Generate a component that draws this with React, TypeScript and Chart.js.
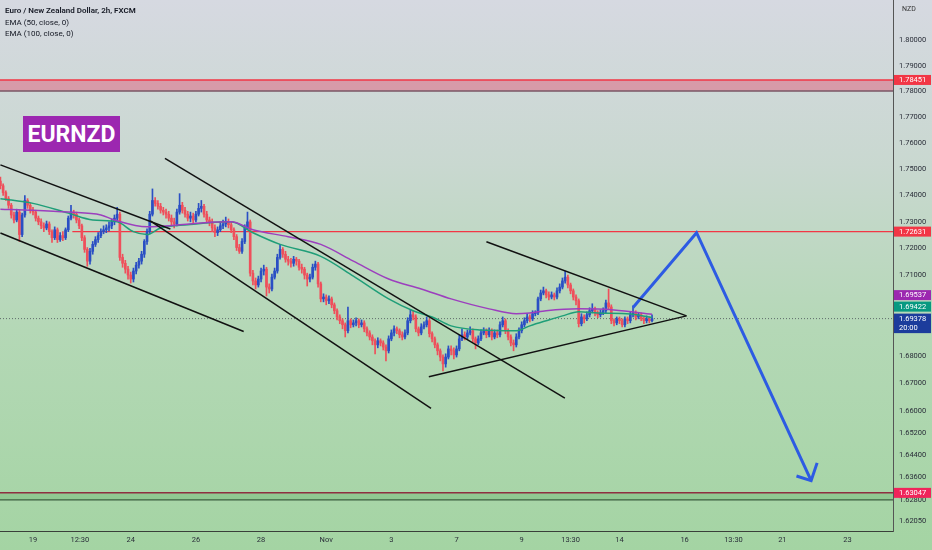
import { useEffect, useRef } from 'react'
import { Chart, registerables } from 'chart.js'
Chart.register(...registerables)

// EURNZD 2h candles, 18 Oct - 14 Nov (bar index = 2h step, weekends skipped)
const opens = [
  1.7455,1.7437,1.7411,1.7388,1.7363,1.7326,1.7307,1.7337,1.7252,1.7326,
  1.7381,1.7363,1.7344,1.7337,1.7314,1.7300,1.7285,1.7277,1.7292,1.7263,
  1.7240,1.7270,1.7233,1.7248,1.7240,1.7270,1.7314,1.7337,1.7329,1.7307,
  1.7285,1.7240,1.7196,1.7152,1.7189,1.7215,1.7233,1.7248,1.7263,1.7270,
  1.7277,1.7285,1.7300,1.7314,1.7329,1.7166,1.7144,1.7122,1.7100,1.7085,
  1.7115,1.7137,1.7152,1.7178,1.7226,1.7263,1.7329,1.7381,1.7370,1.7359,
  1.7344,1.7337,1.7329,1.7314,1.7300,1.7292,1.7337,1.7363,1.7344,1.7329,
  1.7314,1.7322,1.7307,1.7329,1.7351,1.7359,1.7329,1.7307,1.7300,1.7277,
  1.7259,1.7270,1.7285,1.7292,1.7300,1.7289,1.7270,1.7244,1.7203,1.7189,
  1.7226,1.7277,1.7300,1.7107,1.7078,1.7063,1.7085,1.7115,1.7122,1.7055,
  1.7048,1.7092,1.7115,1.7166,1.7196,1.7178,1.7159,1.7152,1.7144,1.7159,
  1.7152,1.7129,1.7122,1.7100,1.7085,1.7092,1.7129,1.7141,1.7067,1.7011,
  1.7018,1.7004,1.7011,1.6989,1.6967,1.6944,1.6930,1.6915,1.6893,1.6930,
  1.6915,1.6922,1.6930,1.6915,1.6922,1.6900,1.6885,1.6870,1.6856,1.6841,
  1.6856,1.6848,1.6833,1.6819,1.6863,1.6885,1.6900,1.6893,1.6878,1.6870,
  1.6885,1.6930,1.6952,1.6944,1.6900,1.6885,1.6907,1.6915,1.6930,1.6882,
  1.6863,1.6841,1.6819,1.6796,1.6771,1.6796,1.6826,1.6819,1.6804,1.6826,
  1.6863,1.6878,1.6870,1.6885,1.6893,1.6863,1.6848,1.6863,1.6885,1.6893,
  1.6878,1.6893,1.6870,1.6885,1.6878,1.6915,1.6930,1.6893,1.6870,1.6848,
  1.6841,1.6870,1.6893,1.6915,1.6930,1.6944,1.6937,1.6956,1.6959,1.7011,
  1.7033,1.7041,1.7026,1.7018,1.7026,1.7018,1.7041,1.7055,1.7078,1.7092,
  1.7063,1.7041,1.7018,1.7004,1.6919,1.6944,1.6937,1.6952,1.6967,1.6974,
  1.6959,1.6952,1.6959,1.6967,1.6996,1.6981,1.6930,1.6922,1.6937,1.6930,
  1.6915,1.6937,1.6930,1.6952,1.6959,1.6944,1.6952,1.6937,1.6930,1.6937,
  1.6930,
]
const highs = [
  1.7470,1.7444,1.7418,1.7396,1.7370,1.7337,1.7348,1.7344,1.7333,1.7400,
  1.7388,1.7370,1.7355,1.7344,1.7322,1.7311,1.7296,1.7303,1.7300,1.7270,
  1.7281,1.7277,1.7259,1.7263,1.7277,1.7322,1.7363,1.7344,1.7337,1.7314,
  1.7292,1.7248,1.7203,1.7200,1.7226,1.7244,1.7259,1.7274,1.7285,1.7289,
  1.7300,1.7311,1.7326,1.7355,1.7337,1.7178,1.7155,1.7133,1.7111,1.7126,
  1.7148,1.7163,1.7189,1.7233,1.7274,1.7340,1.7425,1.7392,1.7381,1.7370,
  1.7355,1.7348,1.7340,1.7326,1.7314,1.7348,1.7407,1.7374,1.7355,1.7340,
  1.7337,1.7333,1.7340,1.7370,1.7381,1.7366,1.7340,1.7318,1.7311,1.7289,
  1.7281,1.7300,1.7307,1.7318,1.7311,1.7300,1.7277,1.7252,1.7215,1.7237,
  1.7289,1.7337,1.7307,1.7118,1.7089,1.7096,1.7126,1.7137,1.7129,1.7067,
  1.7104,1.7126,1.7178,1.7215,1.7203,1.7189,1.7170,1.7163,1.7170,1.7166,
  1.7159,1.7141,1.7129,1.7107,1.7104,1.7141,1.7152,1.7148,1.7074,1.7030,
  1.7026,1.7022,1.7018,1.6996,1.6974,1.6952,1.6937,1.6922,1.6981,1.6937,
  1.6933,1.6941,1.6937,1.6933,1.6930,1.6907,1.6893,1.6878,1.6863,1.6867,
  1.6863,1.6856,1.6841,1.6874,1.6896,1.6911,1.6907,1.6900,1.6889,1.6896,
  1.6941,1.6970,1.6967,1.6952,1.6907,1.6919,1.6926,1.6944,1.6937,1.6889,
  1.6870,1.6848,1.6826,1.6804,1.6808,1.6837,1.6837,1.6830,1.6837,1.6878,
  1.6900,1.6889,1.6896,1.6907,1.6900,1.6870,1.6874,1.6896,1.6904,1.6900,
  1.6904,1.6900,1.6896,1.6896,1.6926,1.6944,1.6937,1.6900,1.6878,1.6859,
  1.6882,1.6904,1.6926,1.6941,1.6956,1.6952,1.6967,1.6967,1.7018,1.7044,
  1.7055,1.7048,1.7037,1.7037,1.7033,1.7052,1.7067,1.7089,1.7115,1.7100,
  1.7070,1.7048,1.7026,1.7011,1.6956,1.6952,1.6963,1.6978,1.6993,1.6981,
  1.6967,1.6970,1.6978,1.7007,1.7048,1.6989,1.6937,1.6944,1.6944,1.6937,
  1.6944,1.6944,1.6963,1.6985,1.6967,1.6959,1.6959,1.6944,1.6948,1.6944,
  1.6952,
]
const lows = [
  1.7425,1.7400,1.7381,1.7351,1.7314,1.7296,1.7300,1.7226,1.7244,1.7318,
  1.7351,1.7333,1.7326,1.7303,1.7289,1.7274,1.7263,1.7270,1.7252,1.7222,
  1.7233,1.7222,1.7226,1.7229,1.7233,1.7263,1.7307,1.7314,1.7296,1.7274,
  1.7229,1.7185,1.7133,1.7141,1.7178,1.7207,1.7222,1.7240,1.7255,1.7259,
  1.7266,1.7274,1.7289,1.7303,1.7155,1.7129,1.7107,1.7085,1.7070,1.7074,
  1.7104,1.7126,1.7141,1.7166,1.7215,1.7255,1.7322,1.7359,1.7348,1.7333,
  1.7326,1.7314,1.7303,1.7289,1.7277,1.7285,1.7329,1.7333,1.7318,1.7303,
  1.7300,1.7292,1.7300,1.7322,1.7337,1.7318,1.7296,1.7285,1.7263,1.7244,
  1.7248,1.7263,1.7274,1.7281,1.7277,1.7259,1.7233,1.7192,1.7181,1.7181,
  1.7218,1.7270,1.7096,1.7063,1.7048,1.7055,1.7074,1.7100,1.7022,1.7033,
  1.7041,1.7085,1.7107,1.7159,1.7166,1.7148,1.7137,1.7129,1.7133,1.7137,
  1.7118,1.7107,1.7085,1.7059,1.7074,1.7085,1.7118,1.7055,1.7000,1.7000,
  1.6989,1.6993,1.6978,1.6956,1.6933,1.6919,1.6900,1.6870,1.6885,1.6904,
  1.6907,1.6911,1.6904,1.6907,1.6889,1.6874,1.6859,1.6841,1.6808,1.6830,
  1.6837,1.6822,1.6782,1.6811,1.6856,1.6874,1.6882,1.6867,1.6859,1.6863,
  1.6878,1.6922,1.6933,1.6889,1.6874,1.6878,1.6900,1.6907,1.6870,1.6852,
  1.6830,1.6804,1.6782,1.6745,1.6759,1.6789,1.6804,1.6789,1.6796,1.6819,
  1.6856,1.6859,1.6863,1.6878,1.6852,1.6826,1.6841,1.6856,1.6878,1.6867,
  1.6870,1.6859,1.6863,1.6867,1.6870,1.6907,1.6882,1.6859,1.6837,1.6819,
  1.6833,1.6863,1.6885,1.6907,1.6922,1.6926,1.6930,1.6948,1.6952,1.7004,
  1.7026,1.7015,1.7007,1.7011,1.7007,1.7011,1.7033,1.7048,1.7070,1.7052,
  1.7030,1.7007,1.6989,1.6907,1.6911,1.6922,1.6930,1.6944,1.6959,1.6948,
  1.6941,1.6944,1.6952,1.6959,1.6974,1.6919,1.6911,1.6915,1.6919,1.6907,
  1.6907,1.6919,1.6922,1.6944,1.6933,1.6937,1.6930,1.6919,1.6922,1.6922,
  1.6926,
]
const closes = [
  1.7437,1.7411,1.7388,1.7363,1.7326,1.7307,1.7337,1.7252,1.7326,1.7381,
  1.7363,1.7344,1.7337,1.7314,1.7300,1.7285,1.7277,1.7292,1.7263,1.7240,
  1.7270,1.7233,1.7248,1.7240,1.7270,1.7314,1.7337,1.7329,1.7307,1.7285,
  1.7240,1.7196,1.7152,1.7189,1.7215,1.7233,1.7248,1.7263,1.7270,1.7277,
  1.7285,1.7300,1.7314,1.7329,1.7166,1.7144,1.7122,1.7100,1.7085,1.7115,
  1.7137,1.7152,1.7178,1.7226,1.7263,1.7329,1.7381,1.7370,1.7359,1.7344,
  1.7337,1.7329,1.7314,1.7300,1.7292,1.7337,1.7363,1.7344,1.7329,1.7314,
  1.7322,1.7307,1.7329,1.7351,1.7359,1.7329,1.7307,1.7300,1.7277,1.7259,
  1.7270,1.7285,1.7292,1.7300,1.7289,1.7270,1.7244,1.7203,1.7189,1.7226,
  1.7277,1.7300,1.7107,1.7078,1.7063,1.7085,1.7115,1.7122,1.7055,1.7048,
  1.7092,1.7115,1.7166,1.7196,1.7178,1.7159,1.7152,1.7144,1.7159,1.7152,
  1.7129,1.7122,1.7100,1.7085,1.7092,1.7129,1.7141,1.7067,1.7011,1.7018,
  1.7004,1.7011,1.6989,1.6967,1.6944,1.6930,1.6915,1.6893,1.6930,1.6915,
  1.6922,1.6930,1.6915,1.6922,1.6900,1.6885,1.6870,1.6856,1.6841,1.6856,
  1.6848,1.6833,1.6819,1.6863,1.6885,1.6900,1.6893,1.6878,1.6870,1.6885,
  1.6930,1.6952,1.6944,1.6900,1.6885,1.6907,1.6915,1.6930,1.6882,1.6863,
  1.6841,1.6819,1.6796,1.6771,1.6796,1.6826,1.6819,1.6804,1.6826,1.6863,
  1.6878,1.6870,1.6885,1.6893,1.6863,1.6848,1.6863,1.6885,1.6893,1.6878,
  1.6893,1.6870,1.6885,1.6878,1.6915,1.6930,1.6893,1.6870,1.6848,1.6841,
  1.6870,1.6893,1.6915,1.6930,1.6944,1.6937,1.6956,1.6959,1.7011,1.7033,
  1.7041,1.7026,1.7018,1.7026,1.7018,1.7041,1.7055,1.7078,1.7092,1.7063,
  1.7041,1.7018,1.7004,1.6919,1.6944,1.6937,1.6952,1.6967,1.6974,1.6959,
  1.6952,1.6959,1.6967,1.6996,1.6981,1.6930,1.6922,1.6937,1.6930,1.6915,
  1.6937,1.6930,1.6952,1.6959,1.6944,1.6952,1.6937,1.6930,1.6937,1.6930,
  1.69378,
]

// EMA readings (bar index, price)
const ema50Bars = [0, 12, 25, 34, 43, 49, 54, 59, 69, 85, 93, 103, 118, 130, 143, 152, 159, 166, 177, 190, 195, 201, 207, 213, 220, 232, 240]
const ema50 = [1.7388, 1.7370, 1.7333, 1.7307, 1.7300, 1.7263, 1.7252, 1.7277, 1.7289, 1.7300, 1.7259, 1.7215, 1.7170, 1.7096, 1.7011, 1.6967, 1.6944, 1.6911, 1.6896, 1.6893, 1.6911, 1.6930, 1.6948, 1.6963, 1.6959, 1.6955, 1.69422]
const ema100Bars = [0, 12, 25, 37, 42, 54, 74, 85, 93, 106, 118, 130, 143, 155, 166, 180, 190, 195, 201, 213, 226, 240]
const ema100 = [1.7348, 1.7344, 1.7337, 1.7326, 1.7307, 1.7281, 1.7296, 1.7300, 1.7270, 1.7244, 1.7215, 1.7152, 1.7085, 1.7048, 1.7011, 1.6974, 1.6956, 1.6959, 1.6967, 1.6974, 1.6970, 1.69537]

const xTickBars = [12, 29.3, 48, 72, 96, 120, 144, 168, 192, 210, 228, 252, 270, 288, 312]
const xTickLabels = ['19', '12:30', '24', '26', '28', 'Nov', '3', '7', '9', '13:30', '14', '16', '13:30', '21', '23']
const yTicks = [1.8, 1.79, 1.78, 1.77, 1.76, 1.75, 1.74, 1.73, 1.72, 1.71, 1.68, 1.67, 1.66, 1.652, 1.644, 1.636, 1.628, 1.6205]

const supplyZone = [1.78025, 1.78451]
const demandZone = [1.62794, 1.63047]
const resistance = 1.72631
const resistanceFrom = 26.5
const lastPrice = 1.69378
const countdown = '20:00'

// drawings, as [bar, price]
const trendLines = [
  [[0, 1.7517], [62.6, 1.7273]],
  [[55.2, 1.7304], [158.6, 1.6609]],
  [[60.6, 1.7542], [207.9, 1.6646]],
  [[0, 1.7258], [89.6, 1.6890]],
  [[179, 1.7225], [252.7, 1.6948]],
  [[157.8, 1.6724], [252.7, 1.6948]],
]
const arrowPath = [[233, 1.6979], [256.4, 1.7259], [298.6, 1.6348]]
const arrowHead = [[293.2, 1.6365], [298.6, 1.6348], [300.8, 1.6412]]

const UP = '#2a4fc4'
const DOWN = '#ef4f5b'
const RED = '#f23645'

const overlay = {
  id: 'overlay',
  beforeDatasetsDraw(chart: any) {
    const { ctx, chartArea: a, scales: { x, y } } = chart
    const hline = (py: number, color: string, w: number, from = a.left, dash: number[] = []) => {
      ctx.beginPath()
      ctx.setLineDash(dash)
      ctx.strokeStyle = color
      ctx.lineWidth = w
      ctx.moveTo(from, py)
      ctx.lineTo(a.right, py)
      ctx.stroke()
      ctx.setLineDash([])
    }
    ctx.save()
    const s1 = y.getPixelForValue(supplyZone[1]), s0 = y.getPixelForValue(supplyZone[0])
    ctx.fillStyle = 'rgba(230,40,80,0.35)'
    ctx.fillRect(a.left, s1, a.right - a.left, s0 - s1)
    hline(s1, RED, 1.5)
    hline(s0, '#7a5564', 1.5)
    const d1 = y.getPixelForValue(demandZone[1]), d0 = y.getPixelForValue(demandZone[0])
    ctx.fillStyle = 'rgba(60,160,70,0.22)'
    ctx.fillRect(a.left, d1, a.right - a.left, d0 - d1)
    hline(d1, '#8e2f40', 1.5)
    hline(d0, '#3d5f40', 1.2)
    hline(y.getPixelForValue(resistance), RED, 1.2, x.getPixelForValue(resistanceFrom))
    hline(y.getPixelForValue(lastPrice), '#5f6b6b', 1, a.left, [1, 2])
    ctx.restore()
  },
  afterDraw(chart: any) {
    const { ctx, scales: { y } } = chart
    const left = y.left + 1, w = 37, h = 10
    const tag = (cy: number, color: string, text: string, sub?: string) => {
      ctx.fillStyle = color
      ctx.fillRect(left, cy - h / 2, w, sub ? 19.5 : h)
      ctx.fillStyle = '#fff'
      ctx.font = '7.5px Roboto'
      ctx.textAlign = 'left'
      ctx.textBaseline = 'middle'
      ctx.fillText(text, left + 5, cy + 0.5)
      if (sub) ctx.fillText(sub, left + 5, cy + 9.5)
    }
    ctx.save()
    tag(y.getPixelForValue(supplyZone[1]), RED, supplyZone[1].toFixed(5))
    tag(y.getPixelForValue(resistance), RED, resistance.toFixed(5))
    tag(y.getPixelForValue(demandZone[1]), '#f0245a', demandZone[1].toFixed(5))
    const ly = y.getPixelForValue(lastPrice)
    tag(ly, '#1c3c9c', lastPrice.toFixed(5), countdown)
    tag(ly - 12, '#089981', ema50[ema50.length - 1].toFixed(5))
    tag(ly - 23.5, '#9c27b0', ema100[ema100.length - 1].toFixed(5))
    ctx.restore()
  },
}

const pts = (arr: number[][]) => arr.map(([x, y]) => ({ x, y }))

export default function App() {
  const ref = useRef<HTMLCanvasElement>(null)

  useEffect(() => {
    document.body.style.margin = '0'
    if (!ref.current) return
    Chart.defaults.font.family = 'Roboto, sans-serif'
    const colors = closes.map((c, i) => (c >= opens[i] ? UP : DOWN))
    const idx = closes.map((_, i) => i)
    const lineBase = { type: 'line', pointRadius: 0, fill: false, order: 0 }
    const chart = new Chart(ref.current, {
      type: 'bar',
      data: {
        datasets: [
          ...trendLines.map(l => ({ ...lineBase, data: pts(l), borderColor: '#111', borderWidth: 1.5 })),
          { ...lineBase, data: pts(arrowPath), borderColor: '#2d5be3', borderWidth: 3, borderJoinStyle: 'miter' },
          { ...lineBase, data: pts(arrowHead), borderColor: '#2d5be3', borderWidth: 3, borderJoinStyle: 'miter' },
          { ...lineBase, order: 5, data: ema100Bars.map((b, i) => ({ x: b, y: ema100[i] })), borderColor: '#9c3fbe', borderWidth: 1.5, cubicInterpolationMode: 'monotone' },
          { ...lineBase, order: 5, data: ema50Bars.map((b, i) => ({ x: b, y: ema50[i] })), borderColor: '#1f9e78', borderWidth: 1.5, cubicInterpolationMode: 'monotone' },
          { type: 'bar', order: 10, data: idx.map(i => ({ x: i, y: [opens[i], closes[i]] })), backgroundColor: colors, barThickness: 2, minBarLength: 1, grouped: false },
          { type: 'bar', order: 11, data: idx.map(i => ({ x: i, y: [lows[i], highs[i]] })), backgroundColor: colors, barThickness: 1, grouped: false },
        ] as any,
      },
      options: {
        animation: false,
        responsive: false,
        events: [],
        layout: { padding: 0, autoPadding: false },
        plugins: { legend: { display: false }, tooltip: { enabled: false } },
        scales: {
          x: {
            type: 'linear', min: -0.15, max: 328.75, offset: false,
            grid: { display: false, drawTicks: false, offset: false },
            border: { display: true, color: '#3a3f3a', width: 1 },
            ticks: { autoSkip: false, maxRotation: 0, padding: 5, color: '#2a2e39', font: { size: 7.5 }, callback: (_v: any, i: number) => xTickLabels[i] ?? '' },
            afterBuildTicks: (s: any) => { s.ticks = xTickBars.map(v => ({ value: v })) },
            afterFit: (s: any) => { s.height = 19; s.paddingLeft = 0; s.paddingRight = 0 },
          },
          y: {
            type: 'logarithmic', position: 'right', min: 1.61693, max: 1.81598,
            grid: { display: false, drawTicks: false },
            border: { display: true, color: '#555', width: 1 },
            ticks: { autoSkip: false, padding: 6, color: '#2a2e39', font: { size: 7.5 }, callback: (v: any) => Number(v).toFixed(5) },
            afterBuildTicks: (s: any) => { s.ticks = yTicks.map(v => ({ value: v })) },
            afterFit: (s: any) => { s.width = 39; s.paddingTop = 0; s.paddingBottom = 0 },
          },
        },
      } as any,
      plugins: [overlay],
    })
    return () => chart.destroy()
  }, [])

  const text = { position: 'absolute' as const, fontFamily: 'Roboto, sans-serif', color: '#131722' }

  return (
    <div style={{ position: 'relative', width: 932, height: 550, overflow: 'hidden', background: 'linear-gradient(to bottom, #d6d9e1 0%, #c9d8d0 30%, #b4d8b6 60%, #a4d4a3 100%)' }}>
      <canvas ref={ref} width={932} height={550} style={{ display: 'block' }} />
      <div style={{ ...text, left: 5, top: 5, fontSize: 8, lineHeight: '11.5px' }}>
        <div style={{ fontWeight: 600 }}>Euro / New Zealand Dollar, 2h, FXCM</div>
        <div>EMA (50, close, 0)</div>
        <div>EMA (100, close, 0)</div>
      </div>
      <div style={{ ...text, left: 902, top: 5, fontSize: 7, color: '#333' }}>NZD</div>
      <div style={{ ...text, left: 23, top: 116, width: 97, height: 36, background: '#9c27b0', color: '#fff', fontWeight: 700, fontSize: 23, display: 'flex', alignItems: 'center', justifyContent: 'center' }}>EURNZD</div>
    </div>
  )
}
